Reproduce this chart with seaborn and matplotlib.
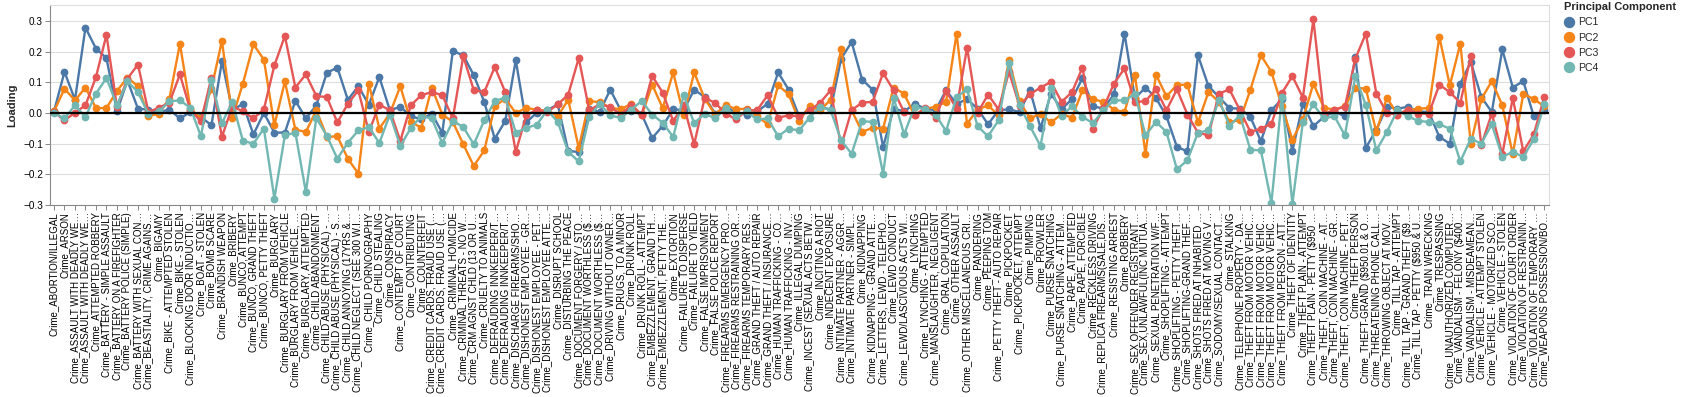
import numpy as np
import pandas as pd
import matplotlib
matplotlib.use("Agg")
import matplotlib.pyplot as plt
import seaborn as sns
from matplotlib.lines import Line2D

crimes = [
    "Crime_ABORTION/ILLEGAL", "Crime_ARSON", "Crime_ASSAULT WITH DEADLY WE…", "Crime_ASSAULT WITH DEADLY WE…",
    "Crime_ATTEMPTED ROBBERY", "Crime_BATTERY - SIMPLE ASSAULT", "Crime_BATTERY ON A FIREFIGHTER",
    "Crime_BATTERY POLICE (SIMPLE)", "Crime_BATTERY WITH SEXUAL CON…", "Crime_BEASTIALITY, CRIME AGAINS…",
    "Crime_BIGAMY", "Crime_BIKE - ATTEMPTED STOLEN", "Crime_BIKE - STOLEN", "Crime_BLOCKING DOOR INDUCTIO…",
    "Crime_BOAT - STOLEN", "Crime_BOMB SCARE", "Crime_BRANDISH WEAPON", "Crime_BRIBERY", "Crime_BUNCO, ATTEMPT",
    "Crime_BUNCO, GRAND THEFT", "Crime_BUNCO, PETTY THEFT", "Crime_BURGLARY", "Crime_BURGLARY FROM VEHICLE",
    "Crime_BURGLARY FROM VEHICLE, …",
    "Crime_BURGLARY, ATTEMPTED", "Crime_CHILD ABANDONMENT", "Crime_CHILD ABUSE (PHYSICAL) - …",
    "Crime_CHILD ABUSE (PHYSICAL) - S…", "Crime_CHILD ANNOYING (17YRS &…", "Crime_CHILD NEGLECT (SEE 300 W.I…",
    "Crime_CHILD PORNOGRAPHY", "Crime_CHILD STEALING", "Crime_CONSPIRACY", "Crime_CONTEMPT OF COURT",
    "Crime_CONTRIBUTING", "Crime_COUNTERFEIT", "Crime_CREDIT CARDS, FRAUD USE (…", "Crime_CREDIT CARDS, FRAUD USE (…",
    "Crime_CRIMINAL HOMICIDE", "Crime_CRIMINAL THREATS - NO W…", "Crime_CRM AGNST CHLD (13 OR U…",
    "Crime_CRUELTY TO ANIMALS", "Crime_DEFRAUDING INNKEEPER/T…", "Crime_DEFRAUDING INNKEEPER/T…",
    "Crime_DISCHARGE FIREARMS/SHO…", "Crime_DISHONEST EMPLOYEE - GR…", "Crime_DISHONEST EMPLOYEE - PET…",
    "Crime_DISHONEST EMPLOYEE ATTE…", "Crime_DISRUPT SCHOOL", "Crime_DISTURBING THE PEACE",
    "Crime_DOCUMENT FORGERY / STO…",
    "Crime_DOCUMENT WORTHLESS ($…", "Crime_DOCUMENT WORTHLESS ($…", "Crime_DRIVING WITHOUT OWNER…",
    "Crime_DRUGS, TO A MINOR", "Crime_DRUNK ROLL", "Crime_DRUNK ROLL - ATTEMPT", "Crime_EMBEZZLEMENT, GRAND TH…",
    "Crime_EMBEZZLEMENT, PETTY THE…", "Crime_EXTORTION", "Crime_FAILURE TO DISPERSE", "Crime_FAILURE TO YIELD",
    "Crime_FALSE IMPRISONMENT", "Crime_FALSE POLICE REPORT", "Crime_FIREARMS EMERGENCY PRO…",
    "Crime_FIREARMS RESTRAINING OR…", "Crime_FIREARMS TEMPORARY RES…", "Crime_GRAND THEFT / AUTO REPAIR",
    "Crime_GRAND THEFT / INSURANCE…", "Crime_HUMAN TRAFFICKING - CO…", "Crime_HUMAN TRAFFICKING - INV…",
    "Crime_ILLEGAL DUMPING", "Crime_INCEST (SEXUAL ACTS BETW…", "Crime_INCITING A RIOT", "Crime_INDECENT EXPOSURE",
    "Crime_INTIMATE PARTNER - AGGR…", "Crime_INTIMATE PARTNER - SIMPL…",
    "Crime_KIDNAPPING", "Crime_KIDNAPPING - GRAND ATTE…", "Crime_LETTERS, LEWD - TELEPHO…", "Crime_LEWD CONDUCT",
    "Crime_LEWD/LASCIVIOUS ACTS WI…", "Crime_LYNCHING", "Crime_LYNCHING - ATTEMPTED",
    "Crime_MANSLAUGHTER, NEGLIGENT", "Crime_ORAL COPULATION", "Crime_OTHER ASSAULT",
    "Crime_OTHER MISCELLANEOUS CRI…", "Crime_PANDERING", "Crime_PEEPING TOM", "Crime_PETTY THEFT - AUTO REPAIR",
    "Crime_PICKPOCKET", "Crime_PICKPOCKET, ATTEMPT", "Crime_PIMPING", "Crime_PROWLER", "Crime_PURSE SNATCHING",
    "Crime_PURSE SNATCHING - ATTEM…", "Crime_RAPE, ATTEMPTED", "Crime_RAPE, FORCIBLE", "Crime_RECKLESS DRIVING",
    "Crime_REPLICA FIREARMS(SALE,DIS…", "Crime_RESISTING ARREST", "Crime_ROBBERY", "Crime_SEX OFFENDER REGISTRANT…",
    "Crime_SEX,UNLAWFUL(INC MUTUA…", "Crime_SEXUAL PENETRATION W/F…", "Crime_SHOPLIFTING - ATTEMPT",
    "Crime_SHOPLIFTING - PETTY THEFT…", "Crime_SHOPLIFTING-GRAND THEF…", "Crime_SHOTS FIRED AT INHABITED …",
    "Crime_SHOTS FIRED AT MOVING V…", "Crime_SODOMY/SEXUAL CONTACT…", "Crime_STALKING",
    "Crime_TELEPHONE PROPERTY - DA…", "Crime_THEFT FROM MOTOR VEHIC…", "Crime_THEFT FROM MOTOR VEHIC…",
    "Crime_THEFT FROM MOTOR VEHIC…", "Crime_THEFT FROM PERSON - ATT…", "Crime_THEFT OF IDENTITY",
    "Crime_THEFT PLAIN - ATTEMPT", "Crime_THEFT PLAIN - PETTY ($950 …", "Crime_THEFT, COIN MACHINE - AT…",
    "Crime_THEFT, COIN MACHINE - GR…", "Crime_THEFT, COIN MACHINE - PET…", "Crime_THEFT PERSON",
    "Crime_THEFT-GRAND ($950.01 & O…", "Crime_THREATENING PHONE CALL…", "Crime_THROWING OBJECT AT MOV…",
    "Crime_TILL TAP - ATTEMPT", "Crime_TILL TAP - GRAND THEFT ($9…", "Crime_TILL TAP - PETTY ($950 & U…",
    "Crime_TRAIN WRECKING", "Crime_TRESPASSING", "Crime_UNAUTHORIZED COMPUTER…", "Crime_VANDALISM - FELONY ($400…",
    "Crime_VANDALISM - MISDEAMEAN…", "Crime_VEHICLE - ATTEMPT STOLEN", "Crime_VEHICLE - MOTORIZED SCO…",
    "Crime_VEHICLE - STOLEN", "Crime_VIOLATION OF COURT ORDER", "Crime_VIOLATION OF RESTRAININ…",
    "Crime_VIOLATION OF TEMPORARY …", "Crime_WEAPONS POSSESSION/BO…",
]

pc1 = [0.005, 0.134, 0.043, 0.278, 0.21, 0.179, 0.005, 0.106, 0.014, 0.011, 0.003, 0.011, -0.018, 0.003,
       -0.013, -0.04, 0.168, 0.009, 0.03, -0.07, 0.0, -0.064, -0.064, 0.04,
       -0.018, 0.025, 0.131, 0.148, 0.043, 0.087, 0.027, 0.117, 0.009, 0.02, -0.01, -0.021, -0.002, -0.065,
       0.202, 0.188, 0.123, 0.036, -0.084, -0.026, 0.172, -0.031, 0.001, 0.009, 0.028, -0.124, -0.127,
       0.014, 0.003, 0.076, 0.009, 0.005, -0.004, -0.082, -0.042, 0.012, 0.009, 0.076, 0.052, -0.002, 0.02,
       0.001, -0.005, 0.005, 0.03, 0.132, 0.076, -0.011, 0.011, 0.02, 0.011, 0.177, 0.231,
       0.109, 0.076, -0.111, 0.014, 0.005, 0.03, 0.014, 0.009, 0.074, 0.03, 0.045, 0.014, -0.037, 0.009,
       0.012, 0.003, 0.074, -0.049, 0.063, 0.012, 0.045, 0.114, 0.022, 0.014, 0.061, 0.259, 0.048,
       0.083, 0.049, -0.011, -0.111, -0.125, 0.188, 0.088, 0.052, 0.016, 0.014, -0.013, -0.092, 0.009,
       0.045, -0.124, 0.03, -0.043, -0.013, 0.005, -0.011, 0.183, -0.114, -0.054, 0.02, 0.014, 0.02, 0.005,
       0.003, -0.078, -0.1, 0.096, 0.166, 0.052, 0.003, 0.207, 0.083, 0.104, -0.011, 0.011]

pc2 = [0.005, 0.079, 0.041, 0.083, 0.016, 0.016, 0.072, 0.115, 0.087, -0.01, -0.002, 0.047, 0.226, 0.014,
       -0.018, 0.079, 0.235, -0.015, 0.096, 0.224, 0.174, -0.04, 0.103, -0.054,
       -0.062, 0.009, -0.078, -0.076, -0.149, -0.198, 0.096, -0.051, -0.002, 0.087, -0.029, -0.048, 0.083,
       -0.005, -0.029, -0.102, -0.173, -0.122, 0.022, 0.047, 0.0, 0.016, 0.011, 0.007, -0.01, 0.043, -0.114,
       0.038, 0.036, 0.017, 0.012, 0.03, -0.008, 0.092, 0.016, 0.132, -0.008, 0.132, 0.047, -0.005, 0.027,
       0.012, 0.014, -0.01, -0.037, 0.09, 0.061, -0.026, 0.023, 0.009, 0.043, 0.207, 0.009,
       -0.062, -0.048, -0.051, 0.083, 0.063, -0.008, 0.014, 0.02, 0.036, 0.259, -0.035, 0.011, 0.025, -0.008,
       0.172, 0.038, -0.018, -0.002, -0.031, -0.004, -0.015, 0.074, 0.045, 0.036, 0.011, 0.003, 0.123,
       -0.133, 0.125, 0.054, 0.092, 0.092, -0.031, 0.068, 0.036, -0.029, -0.024, 0.076, 0.188, 0.134, 0.022,
       -0.087, -0.021, 0.096, 0.017, 0.011, 0.022, 0.083, 0.079, -0.062, 0.05, -0.005, 0.009, 0.014,
       0.016, 0.248, 0.09, 0.226, -0.1, 0.045, 0.104, 0.025, -0.135, 0.063, 0.045, 0.022]

pc3 = [0.003, -0.024, 0.001, 0.025, 0.117, 0.255, 0.02, 0.112, 0.158, 0.003, 0.017, 0.034, 0.126, 0.009,
       -0.027, 0.115, -0.078, 0.022, 0.005, -0.018, 0.012, 0.155, 0.251, 0.083,
       0.126, 0.055, 0.052, -0.031, 0.03, 0.074, -0.062, 0.027, 0.009, -0.091, 0.025, 0.058, 0.068, 0.058,
       -0.018, 0.185, 0.074, 0.068, 0.15, 0.068, -0.127, -0.008, 0.011, 0.003, 0.028, 0.06, 0.179,
       0.009, 0.028, 0.02, -0.005, 0.025, -0.005, 0.121, 0.066, -0.026, 0.025, -0.102, 0.049, 0.033, -0.002,
       -0.021, 0.009, 0.009, 0.058, -0.015, -0.008, -0.011, 0.009, 0.033, 0.074, -0.108, 0.009,
       0.034, 0.036, 0.13, 0.074, 0.003, -0.008, 0.016, -0.015, 0.072, 0.014, 0.213, 0.0, 0.06, 0.012,
       0.134, 0.023, 0.061, 0.083, 0.101, 0.036, 0.068, 0.148, -0.051, 0.017, 0.096, 0.145, 0.035,
       0.039, 0.077, 0.009, 0.077, -0.005, -0.064, -0.073, 0.063, 0.077, 0.009, -0.062, -0.051, -0.035,
       0.065, 0.12, 0.05, 0.305, -0.004, 0.011, 0.02, 0.177, 0.259, 0.063, 0.0, -0.005, 0.011, -0.002,
       -0.002, 0.092, 0.068, 0.033, 0.185, -0.105, -0.002, -0.135, 0.049, -0.125, -0.07, 0.052]

pc4 = [0.0, -0.018, 0.025, -0.013, 0.063, 0.114, 0.025, 0.103, 0.068, -0.004, 0.005, 0.038, 0.041, 0.017,
       -0.076, 0.107, -0.033, 0.036, -0.091, -0.1, -0.051, -0.279, -0.073, -0.064,
       -0.258, -0.016, -0.075, -0.149, -0.097, -0.057, -0.046, -0.098, -0.005, -0.108, -0.049, -0.01, -0.018,
       -0.098, -0.026, -0.046, -0.102, -0.024, 0.039, 0.05, -0.064, -0.049, -0.038, 0.009, -0.029, -0.127, -0.158,
       -0.013, 0.03, -0.008, -0.016, 0.011, 0.039, -0.005, -0.032, -0.078, 0.058, -0.033, -0.002, -0.018,
       0.017, -0.01, 0.005, -0.021, -0.018, -0.076, -0.051, -0.057, -0.015, 0.02, 0.009, -0.089, -0.133,
       -0.027, -0.029, -0.198, 0.05, -0.07, 0.02, 0.012, -0.005, -0.059, 0.052, 0.077, -0.043, -0.076, -0.024,
       0.163, 0.025, -0.043, -0.108, 0.082, -0.01, 0.022, -0.013, -0.033, 0.009, 0.041, 0.041, 0.062,
       -0.073, -0.029, -0.062, -0.184, -0.154, -0.064, -0.057, 0.043, -0.042, -0.008, -0.12, -0.122, -0.293,
       0.052, -0.296, -0.029, 0.028, -0.018, -0.01, -0.073, 0.12, 0.025, -0.122, -0.062, 0.009, -0.011, -0.026,
       -0.029, -0.037, -0.051, -0.158, -0.084, -0.1, -0.037, -0.143, -0.127, -0.143, -0.086, 0.028]

components = ["PC1", "PC2", "PC3", "PC4"]
colors = ["#4c78a8", "#f58518", "#e45756", "#72b7b2"]
yticks = [-0.3, -0.2, -0.1, 0.0, 0.1, 0.2, 0.3]

n = len(crimes)
keys = [f"{k:03d}|{c}" for k, c in enumerate(crimes)]
df = pd.DataFrame({
    "Crime": keys * 4,
    "Loading": pc1 + pc2 + pc3 + pc4,
    "Principal Component": np.repeat(components, n),
})

sns.set_theme(style="white")
plt.rcParams["font.family"] = ["Liberation Sans", "DejaVu Sans"]

W, H = 1689, 397
fig = plt.figure(figsize=(W / 100, H / 100), dpi=100)
L, R, T, B = 50, 1549, 5, 205
ax = fig.add_axes([L / W, 1 - B / H, (R - L) / W, (B - T) / H])

sns.pointplot(data=df, x="Crime", y="Loading", hue="Principal Component", order=keys,
              hue_order=components, palette=colors, errorbar=None, markers="o", linestyles="-",
              markersize=4.3, linewidth=1.7, legend=False, ax=ax)

ax.axhline(0, color="black", lw=1.6, zorder=5)

ax.set_xlim(-0.38, n - 1 + 0.45)
ax.set_ylim(-0.3, 0.352)
ax.set_xticks(range(n))
ax.set_xticklabels(crimes, rotation=90, fontsize=7.0, color="black")
ax.set_yticks(yticks)
ax.set_yticklabels([f"{v:.1f}".replace("-", "\u2212") for v in yticks], fontsize=7.2, color="black")
ax.set_axisbelow(True)
ax.yaxis.grid(True, color="#dddddd", lw=0.8)
ax.xaxis.grid(False)
ax.tick_params(axis="both", length=3.6, width=0.7, color="#888888", pad=1.5)
ax.tick_params(axis="y", left=True)
ax.tick_params(axis="x", bottom=True)
for s in ["left", "bottom"]:
    ax.spines[s].set_color("#888888")
    ax.spines[s].set_linewidth(0.8)
for s in ["top", "right"]:
    ax.spines[s].set_color("#dddddd")
    ax.spines[s].set_linewidth(0.8)

ax.set_xlabel("")
ax.set_ylabel("Loading", fontsize=8, fontweight="bold")
ax.yaxis.set_label_coords(-0.022, 0.5)

handles = [Line2D([], [], marker="o", ls="", markersize=7.2, markerfacecolor=c, markeredgecolor=c)
           for c in colors]
leg = fig.legend(handles, components, title="Principal Component", loc="upper left",
                 bbox_to_anchor=(1564 / W, 1 - 2 / H), frameon=False, fontsize=7.6,
                 title_fontproperties={"weight": "bold", "size": 8},
                 handletextpad=0.3, labelspacing=0.5, borderaxespad=0, borderpad=0,
                 handlelength=1.0)
leg._legend_box.align = "left"

fig.savefig("out.png", dpi=100)
